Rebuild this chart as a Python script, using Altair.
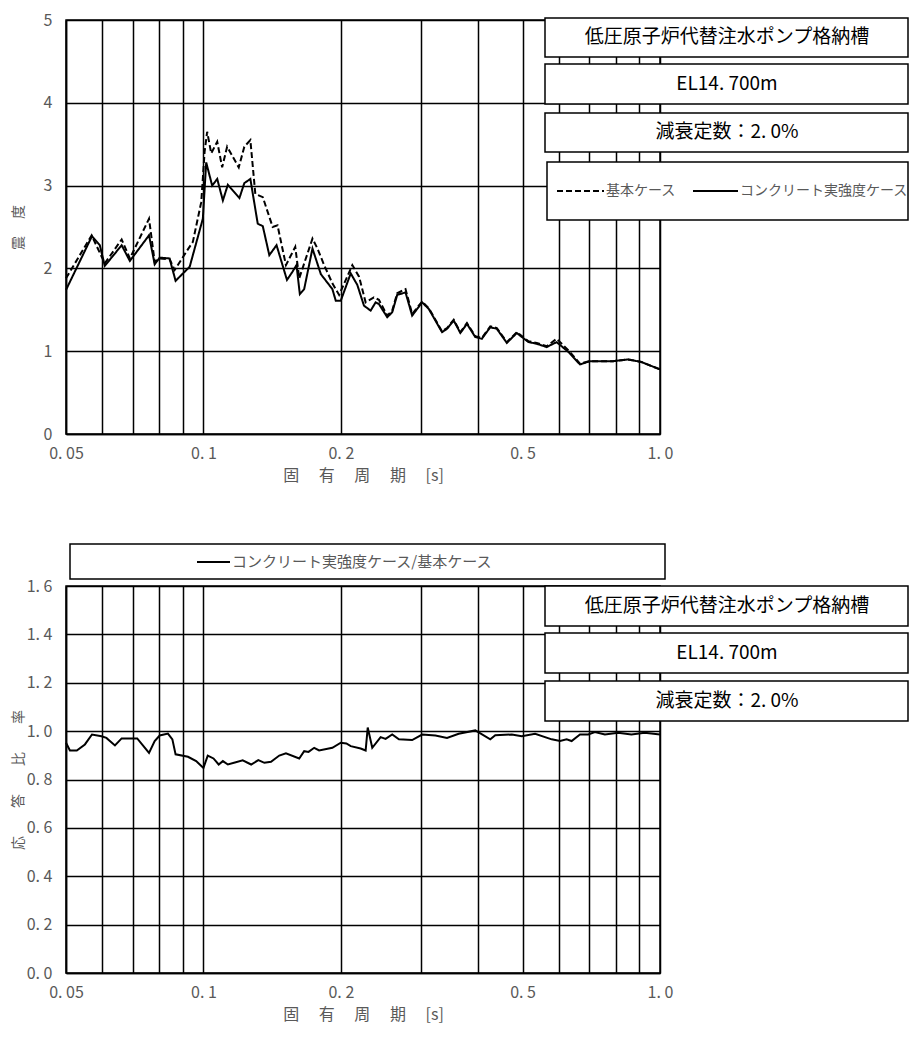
import altair as alt
import pandas as pd

FONT = "Noto Sans CJK JP"

# ---------------- data ----------------
solid_period = [0.0500, 0.0570, 0.0593, 0.0608, 0.0662, 0.0690, 0.0760, 0.0782, 0.0802, 0.0843,
                0.0869, 0.0933, 0.0997, 0.1014, 0.1045, 0.1072, 0.1103, 0.1131, 0.1199, 0.1229,
                0.1267, 0.1315, 0.1349, 0.1394, 0.1446, 0.1524, 0.1567, 0.1599, 0.1626, 0.1662,
                0.1733, 0.1808, 0.1916, 0.1949, 0.1999, 0.2102, 0.2173, 0.2247, 0.2324, 0.2383,
                0.2423, 0.2527, 0.2591, 0.2657, 0.2771, 0.2865, 0.3013, 0.3116, 0.3331, 0.3416,
                0.3533, 0.3654, 0.3777, 0.3940, 0.4072, 0.4249, 0.4392, 0.4619, 0.4857, 0.5150,
                0.5370, 0.5646, 0.5938, 0.6302, 0.6679, 0.7024, 0.7897, 0.8513, 0.9102, 1.0000]
solid_value = [1.74, 2.39, 2.28, 2.03, 2.28, 2.09, 2.40, 2.05, 2.13, 2.12,
               1.85, 2.02, 2.60, 3.28, 3.00, 3.08, 2.82, 3.01, 2.85, 3.03,
               3.08, 2.54, 2.51, 2.16, 2.28, 1.86, 1.96, 2.04, 1.69, 1.75,
               2.24, 1.93, 1.75, 1.61, 1.61, 1.94, 1.80, 1.55, 1.49, 1.59,
               1.57, 1.41, 1.47, 1.68, 1.71, 1.43, 1.59, 1.51, 1.23, 1.27,
               1.37, 1.22, 1.33, 1.17, 1.15, 1.29, 1.27, 1.10, 1.22, 1.11,
               1.09, 1.05, 1.11, 0.99, 0.84, 0.88, 0.88, 0.90, 0.87, 0.78]

dash_period = [0.0500, 0.0569, 0.0608, 0.0662, 0.0690, 0.0760, 0.0782, 0.0802, 0.0843, 0.0865,
               0.0917, 0.0948, 0.0989, 0.1006, 0.1019, 0.1040, 0.1072, 0.1099, 0.1127, 0.1195,
               0.1229, 0.1267, 0.1299, 0.1349, 0.1418, 0.1453, 0.1516, 0.1589, 0.1621, 0.1733,
               0.1777, 0.1838, 0.1916, 0.1982, 0.2119, 0.2192, 0.2266, 0.2363, 0.2423, 0.2527,
               0.2591, 0.2657, 0.2771, 0.2865, 0.3013, 0.3116, 0.3331, 0.3416, 0.3533, 0.3654,
               0.3777, 0.3940, 0.4072, 0.4249, 0.4392, 0.4619, 0.4857, 0.5150, 0.5370, 0.5646,
               0.5938, 0.6302, 0.6679, 0.7024, 0.7897, 0.8513, 0.9102, 1.0000]
dash_value = [1.88, 2.40, 2.06, 2.35, 2.12, 2.60, 2.08, 2.12, 2.11, 1.98,
              2.20, 2.32, 2.80, 3.41, 3.65, 3.39, 3.53, 3.22, 3.47, 3.22,
              3.47, 3.55, 2.90, 2.86, 2.50, 2.52, 2.04, 2.26, 1.88, 2.36,
              2.24, 2.04, 1.82, 1.68, 2.04, 1.90, 1.59, 1.65, 1.62, 1.43,
              1.49, 1.70, 1.75, 1.45, 1.60, 1.52, 1.24, 1.28, 1.38, 1.23,
              1.34, 1.18, 1.16, 1.30, 1.28, 1.11, 1.23, 1.12, 1.10, 1.06,
              1.15, 1.01, 0.85, 0.88, 0.88, 0.90, 0.87, 0.78]

ratio_period = [0.0500, 0.0510, 0.0528, 0.0550, 0.0570, 0.0598, 0.0613, 0.0640, 0.0662, 0.0716,
                0.0760, 0.0782, 0.0802, 0.0836, 0.0855, 0.0869, 0.0925, 0.0964, 0.1000, 0.1022,
                0.1052, 0.1080, 0.1103, 0.1131, 0.1219, 0.1272, 0.1319, 0.1360, 0.1406, 0.1466,
                0.1516, 0.1621, 0.1662, 0.1699, 0.1748, 0.1792, 0.1916, 0.1999, 0.2056, 0.2102,
                0.2210, 0.2266, 0.2290, 0.2343, 0.2444, 0.2506, 0.2591, 0.2680, 0.2865, 0.3013,
                0.3222, 0.3416, 0.3623, 0.3940, 0.4249, 0.4357, 0.4736, 0.4980, 0.5327, 0.5791,
                0.6041, 0.6245, 0.6403, 0.6679, 0.6963, 0.7202, 0.7573, 0.8096, 0.8657, 0.9259,
                1.0000]
ratio_value = [0.952, 0.920, 0.920, 0.945, 0.986, 0.979, 0.972, 0.941, 0.970, 0.970,
               0.910, 0.959, 0.982, 0.990, 0.966, 0.904, 0.894, 0.876, 0.848, 0.899,
               0.887, 0.862, 0.876, 0.862, 0.879, 0.862, 0.880, 0.869, 0.873, 0.899,
               0.908, 0.887, 0.917, 0.914, 0.931, 0.920, 0.931, 0.952, 0.949, 0.938,
               0.928, 0.920, 1.015, 0.931, 0.975, 0.968, 0.986, 0.966, 0.963, 0.986,
               0.982, 0.972, 0.989, 1.003, 0.966, 0.983, 0.986, 0.979, 0.989, 0.966,
               0.959, 0.966, 0.959, 0.986, 0.986, 0.996, 0.986, 0.993, 0.986, 0.993,
               0.986]

case_names = ["基本ケース", "コンクリート実強度ケース"]
ratio_name = "コンクリート実強度ケース/基本ケース"

x_grid_values = [0.05, 0.06, 0.07, 0.08, 0.09, 0.1, 0.2, 0.3, 0.4, 0.5, 0.6, 0.7, 0.8, 0.9, 1.0]
x_label_values = [0.05, 0.1, 0.2, 0.5, 1.0]
x_label_texts = ["0. 05", "0. 1", "0. 2", "0. 5", "1. 0"]
top_y_values = [0, 1, 2, 3, 4, 5]
bot_y_values = [0, 0.2, 0.4, 0.6, 0.8, 1.0, 1.2, 1.4, 1.6]

box_texts = ["低圧原子炉代替注水ポンプ格納槽", "EL14. 700m", "減衰定数：2. 0%"]
x_title = "固　 有　 周　 期　 [s]"
top_y_title = "震　 度"
bot_y_title = "応　　答　　比　　率"

# ---------------- tables ----------------
top_df = pd.concat([
    pd.DataFrame({"period": dash_period, "value": dash_value, "case": case_names[0]}),
    pd.DataFrame({"period": solid_period, "value": solid_value, "case": case_names[1]}),
])
ratio_df = pd.DataFrame({"period": ratio_period, "value": ratio_value, "case": ratio_name})
one = pd.DataFrame({"k": [0]})

W = 594
H_TOP = 414
H_BOT = 387
GRAY = "#595959"

label_expr = " : ".join(
    f"datum.value == {v} ? '{t}'" for v, t in zip(x_label_values, x_label_texts)
) + " : ''"


def x_axis():
    return alt.Axis(values=x_grid_values, labelExpr=label_expr, grid=True, gridColor="black",
                    gridWidth=1.5, gridOpacity=1, ticks=False, domainColor="black", domainWidth=1.5,
                    labelColor=GRAY, labelFont=FONT, labelFontSize=16, labelPadding=11,
                    labelOverlap=False, labelFlush=False, title=x_title, titleFont=FONT,
                    titleFontSize=16, titleColor=GRAY, titleFontWeight="normal",
                    titleY=41, titleBaseline="middle")


def y_axis(values, title, h, expr=None):
    kw = dict(values=values, grid=True, gridColor="black", gridWidth=1.5, gridOpacity=1,
              ticks=False, domainColor="black", domainWidth=1.5, labelColor=GRAY, labelFont=FONT,
              labelFontSize=16, labelPadding=14, title=title, titleFont=FONT, titleFontSize=14,
              titleColor=GRAY, titleFontWeight="normal", titleX=-48, titleY=h / 2,
              titleAngle=270, titleAlign="center", titleBaseline="middle")
    if expr:
        kw["labelExpr"] = expr
    return alt.Axis(**kw)


xs = alt.Scale(type="log", domain=[0.05, 1.0], nice=False)


def box(x1, x2, y1, y2):
    return alt.Chart(one).mark_rect(fill="white", stroke="black", strokeWidth=1.5).encode(
        x=alt.value(x1), x2=alt.value(x2), y=alt.value(y1), y2=alt.value(y2))


def label(text, x, y, size=19, color="black", align="center"):
    return alt.Chart(one).mark_text(text=text, font=FONT, fontSize=size, color=color,
                                    align=align, baseline="middle").encode(
        x=alt.value(x), y=alt.value(y))


def seg(x1, x2, y, dash=None):
    kw = dict(color="black", strokeWidth=2)
    if dash:
        kw["strokeDash"] = dash
    return alt.Chart(one).mark_rule(**kw).encode(x=alt.value(x1), x2=alt.value(x2), y=alt.value(y))


# ---------------- top panel ----------------
top_lines = alt.Chart(top_df).mark_line(color="black", strokeWidth=2).encode(
    x=alt.X("period:Q", scale=xs, axis=x_axis()),
    y=alt.Y("value:Q", scale=alt.Scale(domain=[0, 5], nice=False),
            axis=y_axis(top_y_values, top_y_title, H_TOP)),
    strokeDash=alt.StrokeDash("case:N", scale=alt.Scale(domain=case_names, range=[[6, 3], [1, 0]]),
                              legend=None),
    detail="case:N",
)

top = alt.layer(
    top_lines,
    box(479, 842, -2, 37), label(box_texts[0], 661, 17),
    box(479, 842, 44, 84), label(box_texts[1], 661, 64),
    box(479, 842, 93, 132), label(box_texts[2], 661, 112),
    box(481, 842, 142, 200),
    seg(491, 538, 171, [6, 3]), label(case_names[0], 540, 171, 14, GRAY, "left"),
    seg(627, 672, 171), label(case_names[1], 674, 171, 14, GRAY, "left"),
).properties(width=W, height=H_TOP)

# ---------------- bottom panel ----------------
bot_line = alt.Chart(ratio_df).mark_line(color="black", strokeWidth=2).encode(
    x=alt.X("period:Q", scale=xs, axis=x_axis()),
    y=alt.Y("value:Q", scale=alt.Scale(domain=[0, 1.6], nice=False),
            axis=y_axis(bot_y_values, bot_y_title, H_BOT,
                        "replace(format(datum.value, '.1f'), '.', '. ')")),
)

bottom = alt.layer(
    bot_line,
    box(4, 599, -42, -7),
    seg(131, 164, -24), label(ratio_name, 166, -24, 15, GRAY, "left"),
    box(479, 842, 0, 40), label(box_texts[0], 661, 20),
    box(479, 842, 47, 87), label(box_texts[1], 661, 67),
    box(479, 842, 95, 135), label(box_texts[2], 661, 115),
).properties(width=W, height=H_BOT)

chart = alt.vconcat(top, bottom, spacing=58).properties(
    padding={"left": 2, "top": 3, "right": 0, "bottom": 0}
).configure_view(stroke="black", strokeWidth=1.5)

chart.save("out.html", embed_options={"renderer": "svg", "actions": False})
